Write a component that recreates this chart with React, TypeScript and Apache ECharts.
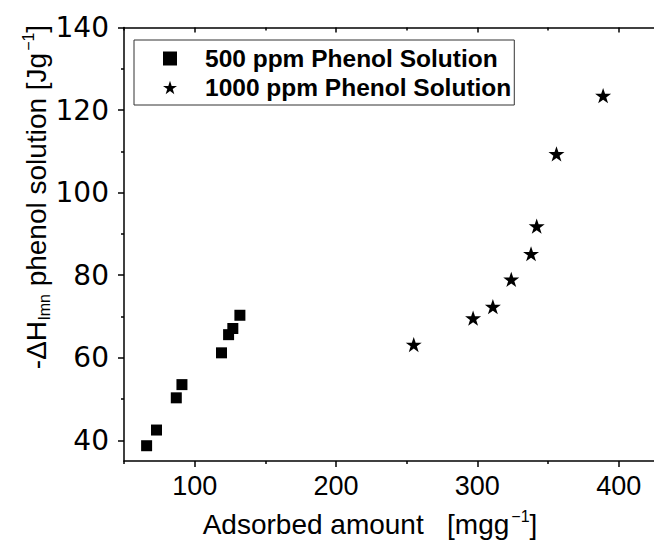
import React, { useEffect, useRef } from 'react';
import * as echarts from 'echarts';

const series500Name = '500 ppm Phenol Solution';
const series1000Name = '1000 ppm Phenol Solution';
const adsorbed500 = [66, 73, 87, 91, 119, 124, 127, 132];
const heat500 = [38.7, 42.5, 50.3, 53.5, 61.2, 65.6, 67.1, 70.3];
const adsorbed1000 = [255, 297, 311, 324, 338, 342, 356, 389];
const heat1000 = [63.2, 69.6, 72.4, 79.0, 85.2, 91.9, 109.4, 123.5];
const xMajorTicks = [100, 200, 300, 400];
const xMinorTicks = [50, 150, 250, 350];
const yMajorTicks = [40, 60, 80, 100, 120, 140];
const yMinorTicks = [50, 70, 90, 110, 130];

const FONT = '"Liberation Sans", Arial, sans-serif';
const WIDE_FONT = '"DejaVu Sans", "Liberation Sans", sans-serif';
const STAR = 'path://M50,0 L61.8,35.3 L99,35.3 L69,57.5 L80.3,93 L50,71.3 L19.7,93 L31,57.5 L1,35.3 L38.2,35.3 Z';

const X_MIN = 50;
const X_MAX = 425;
const Y_MIN = 35;
const Y_MAX = 140;

export default function App() {
  const ref = useRef<HTMLDivElement>(null);
  useEffect(() => {
    if (!ref.current) return;
    const chart = echarts.init(ref.current, undefined, { renderer: 'svg' });
    const lineStyle = { color: '#000', width: 1.5 };
    const xBase = { type: 'value', min: X_MIN, max: X_MAX, splitLine: { show: false } };
    const yBase = { type: 'value', min: Y_MIN, max: Y_MAX, splitLine: { show: false } };
    chart.setOption({
      animation: false,
      backgroundColor: '#fff',
      textStyle: { fontFamily: FONT },
      grid: { left: 124, top: 27.5, width: 532.5, height: 433.5, containLabel: false },
      xAxis: [
        {
          ...xBase,
          position: 'bottom',
          axisLine: { show: true, lineStyle },
          axisTick: { show: true, length: 6, inside: false, lineStyle, customValues: xMajorTicks },
          axisLabel: { show: true, customValues: xMajorTicks, fontSize: 27, color: '#000', margin: 11, fontFamily: FONT },
        },
        {
          ...xBase,
          position: 'bottom',
          axisLine: { show: false },
          axisTick: { show: true, length: 3, inside: false, lineStyle, customValues: xMinorTicks },
          axisLabel: { show: false },
        },
        {
          ...xBase,
          position: 'top',
          axisLine: { show: true, lineStyle },
          axisTick: { show: true, length: 5, inside: true, lineStyle, customValues: xMajorTicks },
          axisLabel: { show: false },
        },
        {
          ...xBase,
          position: 'top',
          axisLine: { show: false },
          axisTick: { show: true, length: 3, inside: true, lineStyle, customValues: xMinorTicks },
          axisLabel: { show: false },
        },
      ],
      yAxis: [
        {
          ...yBase,
          position: 'left',
          axisLine: { show: true, lineStyle },
          axisTick: { show: true, length: 6, inside: false, lineStyle, customValues: yMajorTicks },
          axisLabel: { show: true, customValues: yMajorTicks, fontSize: 28, color: '#000', margin: 15, fontFamily: WIDE_FONT },
        },
        {
          ...yBase,
          position: 'left',
          axisLine: { show: false },
          axisTick: { show: true, length: 3, inside: false, lineStyle, customValues: yMinorTicks },
          axisLabel: { show: false },
        },
      ],
      legend: {
        orient: 'vertical',
        left: 134,
        top: 40,
        padding: [6, 3, 5, 29],
        itemGap: 4,
        itemWidth: 14,
        itemHeight: 14,
        borderColor: '#333',
        borderWidth: 1,
        backgroundColor: '#fff',
        textStyle: { fontSize: 24.5, fontWeight: 'bold', color: '#000', fontFamily: FONT, padding: [0, 0, 0, 23] },
        data: [series500Name, series1000Name],
      },
      graphic: [
        {
          type: 'text',
          x: 370,
          y: 524,
          style: {
            text: '{a|Adsorbed amount   [mgg}{sup|−1}{a|]}',
            x: 0,
            y: 0,
            align: 'center',
            verticalAlign: 'middle',
            fill: '#000',
            rich: {
              a: { fontSize: 28, fontFamily: FONT, fill: '#000', verticalAlign: 'middle' },
              sup: { fontSize: 16, fontFamily: FONT, fill: '#000', verticalAlign: 'middle', padding: [0, 0, 16, 2] },
            },
          },
        },
        {
          type: 'text',
          x: 36,
          y: 197,
          rotation: Math.PI / 2,
          style: {
            text: '{a|-ΔH}{sub|lmn}{a| phenol solution [Jg}{sup|−1}{a|]}',
            x: 0,
            y: 0,
            align: 'center',
            verticalAlign: 'middle',
            fill: '#000',
            rich: {
              a: { fontSize: 28, fontFamily: FONT, fill: '#000', verticalAlign: 'middle' },
              sub: { fontSize: 16, fontFamily: FONT, fill: '#000', verticalAlign: 'middle', padding: [16, 0, 0, 1] },
              sup: { fontSize: 16, fontFamily: FONT, fill: '#000', verticalAlign: 'middle', padding: [0, 0, 16, 2] },
            },
          },
        },
      ],
      series: [
        {
          name: series500Name,
          type: 'scatter',
          xAxisIndex: 0,
          yAxisIndex: 0,
          symbol: 'rect',
          symbolSize: 11,
          itemStyle: { color: '#000', opacity: 1 },
          data: adsorbed500.map((x, i) => [x, heat500[i]]),
        },
        {
          name: series1000Name,
          type: 'scatter',
          xAxisIndex: 0,
          yAxisIndex: 0,
          symbol: STAR,
          symbolSize: 16,
          symbolKeepAspect: true,
          itemStyle: { color: '#000', opacity: 1 },
          data: adsorbed1000.map((x, i) => [x, heat1000[i]]),
        },
      ],
    });
    return () => chart.dispose();
  }, []);
  return <div ref={ref} style={{ position: 'absolute', left: 0, top: 0, width: 654, height: 540 }} />;
}
